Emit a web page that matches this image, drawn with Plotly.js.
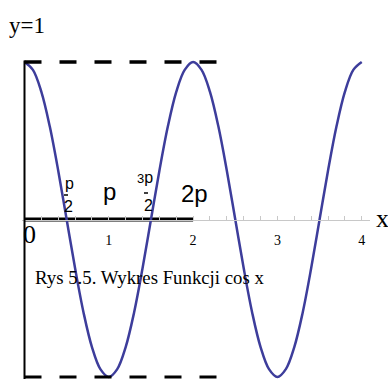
<!DOCTYPE html>
<html>
<head>
<meta charset="utf-8">
<script src="https://cdn.plot.ly/plotly-3.0.1.min.js"></script>
<style>html,body{margin:0;padding:0;background:#fff;}#chart{width:388px;height:379px;}</style>
</head>
<body>
<div id="chart"></div>
<script>
// Values
const xValues = [0,0.1,0.2,0.3,0.4,0.5,0.6,0.7,0.8,0.9,1,1.1,1.2,1.3,1.4,1.5,1.6,1.7,1.8,1.9,2,2.1,2.2,2.3,2.4,2.5,2.6,2.7,2.8,2.9,3,3.1,3.2,3.3,3.4,3.5,3.6,3.7,3.8,3.9,4];
const yValues = [1,0.95,0.81,0.59,0.31,0,-0.31,-0.59,-0.81,-0.95,-1,-0.95,-0.81,-0.59,-0.31,0,0.31,0.59,0.81,0.95,1,0.95,0.81,0.59,0.31,0,-0.31,-0.59,-0.81,-0.95,-1,-0.95,-0.81,-0.59,-0.31,0,0.31,0.59,0.81,0.95,1];
const tickValues = [1,2,3,4];
const tickLabels = ['1','2','3','4'];
const periodStart = 0;
const periodEnd = 2;
const dashEnd = 2.3;
const upperLevel = 1;
const lowerLevel = -1;
const titleText = 'Rys 5.5. Wykres Funkcji cos x';

const W = 388, H = 379;
const px = v => v / W;
const py = v => 1 - v / H;
const serif = 'Liberation Serif, Times New Roman, serif';
const sans = 'Liberation Sans Narrow, Liberation Sans, Arial, sans-serif';

const traces = [
  {x: [periodStart, periodEnd], y: [0, 0], mode: 'lines', line: {color: '#000', width: 4}, hoverinfo: 'skip'},
  {x: xValues, y: yValues, mode: 'lines', line: {color: '#3d3d9b', width: 2.5, shape: 'spline'}, hoverinfo: 'skip'}
];

const ann = (text, x, y, size, family, opts) => Object.assign({
  text: text, xref: 'paper', yref: 'paper', x: px(x), y: py(y),
  xanchor: 'center', yanchor: 'middle', showarrow: false,
  font: {family: family, size: size, color: '#000'}
}, opts || {});

const fracBar = (x0, x1, y) => ({type: 'line', xref: 'paper', yref: 'paper',
  x0: px(x0), x1: px(x1), y0: py(y), y1: py(y), line: {color: '#000', width: 1.5}});

const layout = {
  width: W, height: H,
  margin: {l: 0, r: 0, t: 0, b: 0},
  paper_bgcolor: '#fff', plot_bgcolor: 'rgba(0,0,0,0)',
  showlegend: false,
  xaxis: {
    domain: [22 / W, 370 / W],
    range: [-0.0297, 4.098],
    anchor: 'free', position: 1 - 219.5 / H,
    showline: true, linecolor: '#c8c8c8', linewidth: 1,
    showgrid: false, zeroline: false,
    ticks: 'inside', ticklen: 4, tickcolor: '#c8c8c8', tickwidth: 1,
    tickvals: tickValues, ticktext: tickLabels,
    tickfont: {family: serif, size: 14, color: '#000'},
    ticklabelstandoff: 8,
    minor: {tick0: 0, dtick: 0.2, ticks: 'inside', ticklen: 4, tickcolor: '#c8c8c8', showgrid: false}
  },
  yaxis: {
    range: [-1.0127, 1.3937], visible: false, fixedrange: true
  },
  shapes: [
    {type: 'line', xref: 'x', yref: 'y', x0: 0, x1: 0, y0: -1.02, y1: 1.01, line: {color: '#000', width: 2}},
    {type: 'line', xref: 'x', yref: 'y', x0: periodStart, x1: dashEnd, y0: upperLevel, y1: upperLevel, line: {color: '#000', width: 3.5, dash: '17px,18px'}},
    {type: 'line', xref: 'x', yref: 'y', x0: periodStart, x1: dashEnd, y0: lowerLevel, y1: lowerLevel, line: {color: '#000', width: 3, dash: '17px,18px'}},
    fracBar(64, 68, 195),
    fracBar(144, 148, 193)
  ],
  annotations: [
    ann('y=1', 7, 26, 23, serif, {xanchor: 'left'}),
    ann('x', 382, 218, 26, serif),
    ann('0', 29, 234, 26, serif),
    ann(titleText, 33, 277, 18.8, serif, {xanchor: 'left'}),
    ann('p', 69, 184, 16, sans),
    ann('2', 68, 206, 16, sans),
    ann('p', 109, 191, 24, sans),
    ann('3<span style="font-size:16px">p</span>', 145, 178, 13, sans),
    ann('2', 148, 205, 16, sans),
    ann('2p', 194, 193, 24, sans)
  ]
};

Plotly.newPlot('chart', traces, layout, {staticPlot: true, displayModeBar: false});
</script>
</body>
</html>
